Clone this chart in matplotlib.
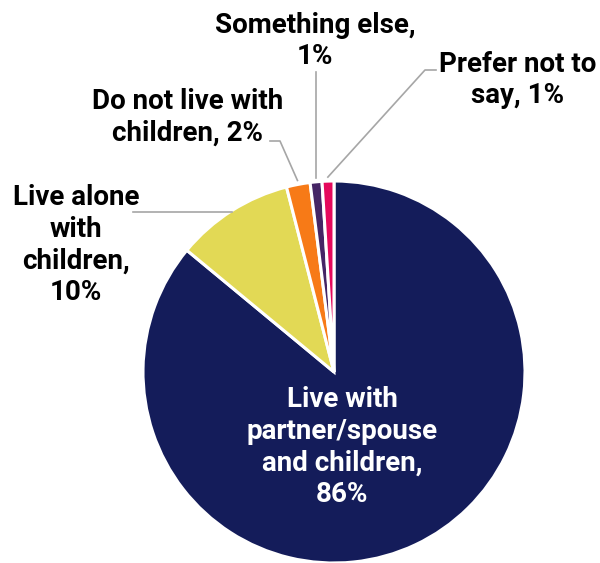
import matplotlib.pyplot as plt
import numpy as np

# Household situation shares (%)
labels = ['Live with\npartner/spouse\nand children,\n86%',
          'Live alone\nwith\nchildren,\n10%',
          'Do not live with\nchildren, 2%',
          'Something else,\n1%',
          'Prefer not to\nsay, 1%']
shares = [86, 10, 2, 1, 1]
colors = ['#141C5A', '#E2D955', '#F77A17', '#452565', '#E5095D']

plt.rcParams['font.family'] = ['Roboto', 'DejaVu Sans']

W, H = 600, 563
fig = plt.figure(figsize=(W / 100, H / 100), dpi=100)
ax = fig.add_axes([0, 0, 1, 1])

cx, cy, R = 334, H - 372, 191
wedges, _ = ax.pie(shares, colors=colors, startangle=90, counterclock=False,
                   center=(cx, cy), radius=R, frame=True,
                   wedgeprops=dict(edgecolor='white', linewidth=2.2))
ax.set_xlim(0, W)
ax.set_ylim(0, H)
ax.set_aspect('equal')
ax.axis('off')


def rim(w, off=4):
    a = np.deg2rad((w.theta1 + w.theta2) / 2)
    return cx + (R + off) * np.cos(a), cy + (R + off) * np.sin(a)


fs = 20
lc = '#A6A6A6'
txt = dict(fontsize=fs, fontweight='bold', ha='center', va='center', linespacing=1.22)

# big slice label inside the pie
ax.text(342, H - 447, labels[0], color='white', **txt)

# leader lines (elbows in pixel layout) + outside labels
x0, y0 = rim(wedges[1], -1)
ax.plot([x0, 133], [y0, y0], color=lc, lw=1.2)
ax.text(76, H - 245, labels[1], color='black', **txt)

x0, y0 = rim(wedges[2])
ax.plot([x0, 280, 270], [y0, H - 141, H - 141], color=lc, lw=1.2)
ax.text(188, H - 117, labels[2], color='black', **txt)

x0, y0 = rim(wedges[3])
ax.plot([x0, x0], [y0, H - 72], color=lc, lw=1.2)
ax.text(315, H - 41, labels[3], color='black', **txt)

x0, y0 = rim(wedges[4])
ax.plot([x0, 425, 436], [y0, H - 70, H - 70], color=lc, lw=1.2)
ax.text(518, H - 80, labels[4], color='black', **txt)

fig.savefig('out.png', dpi=100)
